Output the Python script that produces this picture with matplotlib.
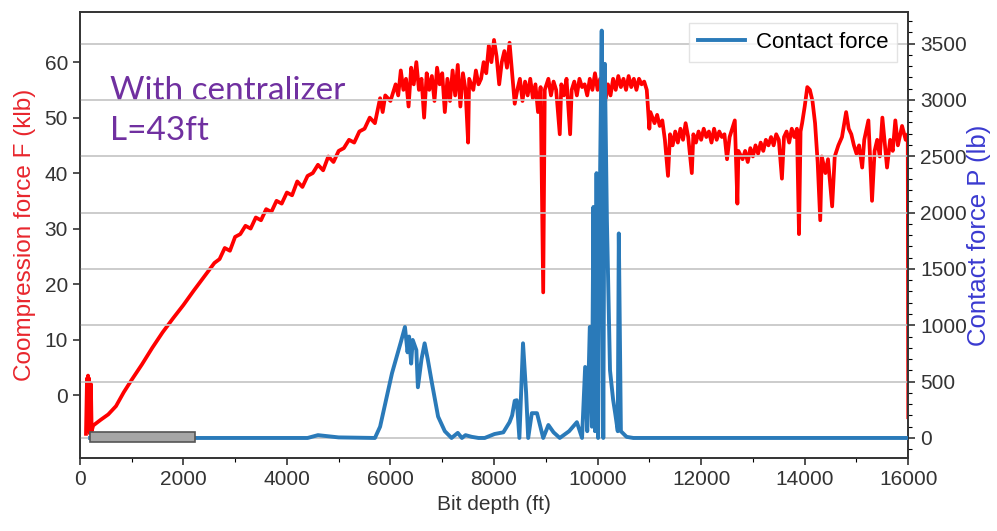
import numpy as np
import matplotlib
matplotlib.use("Agg")
import matplotlib.pyplot as plt
from matplotlib.patches import Rectangle
from matplotlib.ticker import MultipleLocator

plt.rcParams.update({"font.family": "Liberation Sans", "font.size": 15})

# compression force (klb) vs bit depth (ft)
depth_F = [120, 140, 150, 160, 170, 180, 200, 215, 230, 260, 400, 550, 700, 850, 1000, 1200,
           1400, 1600,
           1800, 2000, 2200, 2400, 2600, 2700, 2800, 2900, 3000, 3100, 3200, 3300, 3400,
           3500, 3600, 3700, 3800, 3900, 4000, 4100, 4200, 4300, 4400, 4500, 4600, 4700,
           4800, 4900, 5000, 5100, 5200, 5300, 5400, 5500, 5600, 5700, 5800, 5850, 5900,
           6000, 6100, 6150, 6200, 6250, 6300, 6350, 6400, 6450, 6500, 6550, 6600, 6650,
           6700, 6750, 6800, 6850, 6900, 6950, 7000, 7050, 7100, 7150, 7200, 7250, 7300,
           7350, 7400, 7450, 7500, 7520, 7600, 7650, 7700, 7750, 7800, 7850, 7900, 7950,
           8000, 8050, 8100, 8150, 8200, 8250, 8300, 8350, 8400, 8450, 8500, 8550, 8600,
           8650, 8700, 8750, 8800, 8850, 8900, 8950, 8980, 9050, 9100, 9150, 9200, 9270,
           9300, 9350, 9400, 9470, 9500, 9550, 9600, 9650, 9700, 9750, 9800, 9850, 9900,
           9950, 10000, 10050, 10100, 10150, 10200, 10250, 10300, 10350, 10400, 10450,
           10500, 10550, 10600, 10650, 10700, 10750, 10800, 10850, 10900, 10950, 11000,
           11020, 11100, 11150, 11200, 11250, 11300, 11360, 11400, 11450, 11500, 11550,
           11600, 11650, 11700, 11750, 11820, 11850, 11900, 11950, 12000, 12050, 12100,
           12150, 12200, 12250, 12300, 12350, 12400, 12450, 12500, 12550, 12600, 12650,
           12700, 12720, 12800, 12850, 12900, 12950, 13000, 13050, 13100, 13150, 13200,
           13250, 13300, 13350, 13400, 13450, 13500, 13560, 13600, 13650, 13700, 13750,
           13800, 13850, 13890, 13920, 13950, 14000, 14050, 14100, 14150, 14200, 14250,
           14300, 14330, 14400, 14450, 14530, 14580, 14650, 14720, 14800, 14850, 14900,
           14950, 15000, 15050, 15110, 15150, 15230, 15300, 15350, 15400, 15450, 15500,
           15550, 15590, 15650, 15700, 15750, 15800, 15880, 15950, 15990, 16000]
force_F = [-7, 3, -6.5, 3.5, -6, 3, -7, 2, -6.5, -5.5, -4.5, -3.5, -2, 0.5, 2.7, 5.5,
           8.5, 11.3,
           13.8, 16.2, 18.8, 21.3, 23.8, 24.5, 26.5, 26, 28.5, 29, 30.5, 30, 32,
           31.5, 33.5, 33, 35, 34.5, 36.5, 36, 38.5, 37.5, 39.5, 40, 41.5, 40.5,
           43, 42, 44, 44.5, 46, 45.5, 47.5, 48, 50, 49, 53.5, 51, 54,
           53, 56, 54, 58.5, 55, 57, 52, 59, 56, 60, 55, 57, 50,
           58, 55, 57.5, 53, 59, 56, 58, 51, 57, 53, 58.5, 54, 59.5,
           52, 58, 55, 45.5, 57, 55, 58.5, 56, 57, 60, 58, 63, 60,
           64, 61, 56, 60, 62, 59, 63.5, 58, 52.5, 55, 57, 53, 56.5,
           54, 57, 53.5, 56, 51, 55.5, 18.5, 55, 57, 54, 56.5, 55, 47,
           56, 54, 57, 47, 55, 56.5, 54, 57, 55.5, 56, 54, 57, 55,
           58, 55, 57, 56, 53, 56, 54, 57, 55, 57.5, 55.5,
           57, 55, 57.5, 55.5, 57, 55, 57, 56, 56.5, 55, 48,
           51, 49, 50.5, 48.5, 49.5, 46, 39.5, 47, 45, 47.5, 45.5,
           48, 46, 49, 46.5, 40, 47, 45.5, 47.5, 46, 48, 46.5,
           47.5, 45.5, 48, 46, 47.5, 46.5, 47, 42.5, 46.5, 48, 49.5,
           34.5, 44, 42.5, 44, 42, 44.5, 43, 45, 43.5, 45.5, 44,
           46, 45, 46.5, 45, 47, 46, 39, 46.5, 47.5, 45.5, 48,
           46.5, 48, 29, 47.5, 49, 52, 55.5, 55, 53, 49, 42,
           31.5, 43, 40, 42.5, 34, 43, 45, 46.5, 51, 48, 47,
           45, 43.5, 45, 41, 46, 49.5, 35, 44, 46, 43, 50,
           45, 41, 46, 44, 49.5, 45, 48.5, 46, 47, -4]

# contact force (lb) vs bit depth (ft)
depth_P = [200, 4400, 4600, 4800, 5000, 5700, 5800, 6030, 6200, 6280, 6330, 6360, 6400,
           6430, 6500, 6530, 6600, 6660, 6720, 6800, 6920, 7050, 7180, 7300, 7380, 7450,
           7570, 7700, 7820, 8010, 8180, 8300, 8350, 8400, 8440, 8490, 8560, 8620, 8660,
           8730, 8830, 8950, 9050, 9150, 9270, 9450, 9600, 9700, 9760, 9800, 9850, 9890,
           9920, 9950, 9980, 10010, 10050, 10080, 10110, 10140, 10180, 10240, 10300,
           10340, 10390, 10410, 10450, 10560, 10690, 16000]
force_P = [0, 0, 25, 15, 5, 0, 100, 575, 850, 985, 760, 900, 660,
           870, 780, 450, 700, 840, 700, 490, 190, 60, 0, 45, 0, 25,
           10, 0, 0, 35, 50, 140, 200, 330, 335, 0, 840, 400, 0,
           220, 220, 0, 115, 50, 0, 60, 140, 0, 630, 60, 985, 100,
           2050, 60, 2350, 0, 2400, 3615, 0, 3320, 1930, 600, 340,
           220, 60, 1815, 60, 10, 0, 0]

GRID = "#c4c4c4"
SPINE = "#333333"

fig = plt.figure(figsize=(9.97, 5.31), dpi=100)
ax = fig.add_axes([0.080, 0.137, 0.831, 0.840])
ax2 = ax.twinx()

ax.plot(depth_F, force_F, color="#ff0000", lw=2.7, zorder=2)
ax2.plot(depth_P, force_P, color="#2a7ab9", lw=2.8, label="Contact force", zorder=3)
ax2.add_patch(Rectangle((200, -40), 2030, 90, facecolor="#a6a6a6", edgecolor="#555555",
                        lw=1.2, zorder=4))

ax.set_xlim(0, 16000)
ax.set_ylim(-11.4, 69)
ax2.set_ylim(-180, 3778)
ax.set_xticks(np.arange(0, 16001, 2000))
ax.xaxis.set_minor_locator(MultipleLocator(1000))
ax.set_yticks(np.arange(0, 61, 10))
ax2.set_yticks(np.arange(0, 3501, 500))
ax2.yaxis.set_minor_locator(MultipleLocator(100))

ax2.grid(axis="y", color=GRID, lw=1.2, zorder=0)
ax.set_axisbelow(True)

for a in (ax, ax2):
    for s in a.spines.values():
        s.set_color(SPINE)
        s.set_linewidth(1.2)
    a.tick_params(colors="#222222", labelcolor="#333333", length=5, width=1.1)
    a.tick_params(which="minor", length=3, width=0.8)

ax.set_xlabel("Bit depth (ft)", color="#333333", labelpad=4)
ax.set_ylabel("Coompression force F (klb)", color="#e8262d", fontsize=17.5, labelpad=6)
ax2.set_ylabel("Contact force P (lb)", color="#3a3ad0", fontsize=18.5, labelpad=0)

ax.text(0.036, 0.858, "With centralizer\nL=43ft", transform=ax.transAxes,
        color="#7030a0", fontsize=24, family="Lato", va="top", ha="left",
        linespacing=1.42)

leg = ax2.legend(loc="upper right", fontsize=16, frameon=True, fancybox=False,
                 borderaxespad=0.5, handlelength=2.1, handletextpad=0.5)
leg.get_frame().set_edgecolor("#dddddd")

fig.savefig("out.png", dpi=100)
